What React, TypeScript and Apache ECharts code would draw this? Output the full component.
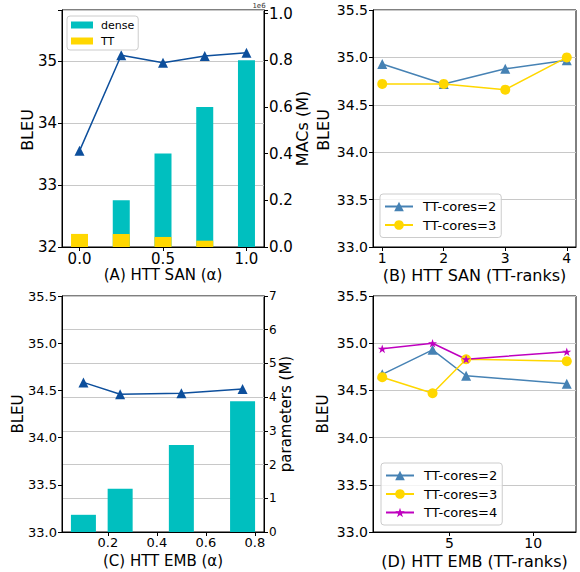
import React, { useEffect, useRef } from 'react';
import * as echarts from 'echarts';

// ---------- data ----------
const sanAlpha = [0, 0.25, 0.5, 0.75, 1.0];
const sanBleu = [33.55, 35.09, 34.97, 35.08, 35.13];
const sanDenseMacs = [0, 0.2, 0.4, 0.6, 0.8]; // x 1e6
const sanTTMacs = [0.056, 0.056, 0.043, 0.027, 0];

const sanRanks = [1, 2, 3, 4];
const sanRankCores2 = [34.93, 34.72, 34.88, 34.97];
const sanRankCores3 = [34.72, 34.72, 34.66, 35.0];

const embAlpha = [0.1, 0.25, 0.5, 0.75];
const embBleu = [34.585, 34.46, 34.47, 34.515];
const embParams = [0.51, 1.28, 2.58, 3.88];

const embRanks = [1, 4, 6, 12];
const embRankCores2 = [34.67, 34.93, 34.655, 34.57];
const embRankCores3 = [34.64, 34.47, 34.83, 34.81];
const embRankCores4 = [34.94, 35.0, 34.83, 34.91];

const ticksAX = [0, 0.5, 1.0];
const ticksBX = [1, 2, 3, 4];
const ticksCX = [0.2, 0.4, 0.6, 0.8];
const ticksDX = [5, 10];

const FONT = 'DejaVu Sans';
const GRIDLINE = '#c8c8c8';
const CYAN = '#00bfbf';
const GOLD = '#ffd700';
const DARKBLUE = '#0d4f9c';
const STEEL = '#4682b4';
const MAGENTA = '#bf00bf';
const STAR =
  'path://M0,-10 L2.245,-3.09 L9.51,-3.09 L3.633,1.18 L5.88,8.09 L0,3.82 L-5.88,8.09 L-3.633,1.18 L-9.51,-3.09 L-2.245,-3.09 Z';

const pairs = (xs: number[], ys: number[]) => xs.map((x, i) => [x, ys[i]]);
const isMult = (v: number, step: number) => Math.abs(v / step - Math.round(v / step)) < 1e-6;

function xAxisDef(gridIndex: number, min: number, max: number, ticks: number[], fontSize: number, fmt: (v: number) => string) {
  return {
    gridIndex,
    type: 'value',
    min,
    max,
    splitLine: { show: false },
    axisLine: { show: true, onZero: false, lineStyle: { color: '#000', width: 1 } },
    axisTick: { show: true, customValues: ticks, length: 4, lineStyle: { color: '#000' } },
    axisLabel: { customValues: ticks, formatter: fmt, fontSize, color: '#000', fontFamily: FONT, margin: 4 },
  };
}

function yAxisDef(
  gridIndex: number,
  position: 'left' | 'right',
  min: number,
  max: number,
  interval: number,
  fontSize: number,
  fmt: (v: number) => string,
  grid: boolean
) {
  return {
    gridIndex,
    type: 'value',
    position,
    min,
    max,
    interval,
    splitLine: { show: grid, lineStyle: { color: GRIDLINE, width: 1 } },
    axisLine: { show: true, onZero: false, lineStyle: { color: '#000', width: 1 } },
    axisTick: { show: true, length: 4, lineStyle: { color: '#000' } },
    axisLabel: { formatter: fmt, fontSize, color: '#000', fontFamily: FONT, margin: 5 },
  };
}

function lineSeries(name: string, xi: number, yi: number, data: number[][], color: string, symbol: string, size: number) {
  return {
    type: 'line',
    name,
    xAxisIndex: xi,
    yAxisIndex: yi,
    data,
    symbol,
    symbolSize: size,
    symbolKeepAspect: true,
    itemStyle: { color },
    lineStyle: { color, width: 1.5 },
    z: 3,
  };
}

function legendDef(data: string[], left: number, top: number, extra: any = {}) {
  return {
    data,
    left,
    top,
    orient: 'vertical',
    itemWidth: 28,
    itemHeight: 12,
    itemGap: 3.5,
    padding: [5, 5, 5, 4],
    backgroundColor: 'rgba(255,255,255,0.8)',
    borderColor: '#cccccc',
    borderWidth: 1,
    borderRadius: 3,
    selectedMode: false,
    textStyle: { fontSize: 13, lineHeight: 15, color: '#000', fontFamily: FONT, padding: [0, 0, 0, 5] },
    ...extra,
  };
}

function txt(text: string, x: number, y: number, fontSize: number, rot = false) {
  return {
    type: 'text',
    x,
    y,
    rotation: rot ? Math.PI / 2 : 0,
    style: { text, fontSize, fontFamily: FONT, fill: '#000', textAlign: 'center', textVerticalAlign: 'middle' },
  };
}

export default function App() {
  const ref = useRef<HTMLDivElement>(null);
  useEffect(() => {
    if (!ref.current) return;
    const chart = echarts.init(ref.current, undefined, { renderer: 'svg' });
    const gridBase = { show: true, borderColor: '#000', borderWidth: 1, backgroundColor: 'transparent', containLabel: false, outerBoundsMode: 'none' };
    const option: any = {
      animation: false,
      backgroundColor: '#fff',
      textStyle: { fontFamily: FONT },
      grid: [
        { ...gridBase, left: 62, top: 10, width: 202, height: 237 },
        { ...gridBase, left: 373, top: 10, width: 203, height: 237 },
        { ...gridBase, left: 62, top: 296, width: 202, height: 236 },
        { ...gridBase, left: 373, top: 296, width: 203, height: 236 },
      ],
      xAxis: [
        xAxisDef(0, -0.105, 1.105, ticksAX, 15, (v: number) => v.toFixed(1)),
        xAxisDef(1, 0.85, 4.15, ticksBX, 14, (v: number) => String(v)),
        xAxisDef(2, 0.0125, 0.8375, ticksCX, 13, (v: number) => v.toFixed(1)),
        xAxisDef(3, 0.45, 12.55, ticksDX, 14, (v: number) => String(v)),
      ],
      yAxis: [
        yAxisDef(0, 'left', 32, 35.82, 1, 15, (v: number) => (isMult(v, 1) ? String(Math.round(v)) : ''), true),
        yAxisDef(0, 'right', 0, 1.015, 0.2, 15, (v: number) => (isMult(v, 0.2) ? v.toFixed(1) : ''), false),
        yAxisDef(1, 'left', 33, 35.5, 0.5, 14, (v: number) => v.toFixed(1), true),
        yAxisDef(2, 'left', 33, 35.5, 0.5, 13, (v: number) => v.toFixed(1), false),
        yAxisDef(2, 'right', 0, 7, 1, 12, (v: number) => String(v), true),
        yAxisDef(3, 'left', 33, 35.5, 0.5, 14, (v: number) => v.toFixed(1), true),
      ],
      legend: [
        legendDef(['dense', 'TT'], 67, 16, {
          icon: 'rect',
          itemWidth: 22,
          itemHeight: 7,
          itemGap: 4,
          padding: [3, 4, 3, 4],
          textStyle: { fontSize: 11, lineHeight: 12, color: '#000', fontFamily: FONT, padding: [0, 0, 0, 3] },
        }),
        legendDef(['TT-cores=2', 'TT-cores=3'], 380, 194),
        legendDef(['TT-cores=2', 'TT-cores=3', 'TT-cores=4'], 381, 463),
      ],
      series: [
        {
          type: 'bar',
          name: 'dense',
          xAxisIndex: 0,
          yAxisIndex: 1,
          data: pairs(sanAlpha, sanDenseMacs),
          barWidth: 17,
          barGap: '-100%',
          itemStyle: { color: CYAN },
        },
        {
          type: 'bar',
          name: 'TT',
          xAxisIndex: 0,
          yAxisIndex: 1,
          data: pairs(sanAlpha, sanTTMacs),
          barWidth: 17,
          barGap: '-100%',
          itemStyle: { color: GOLD },
        },
        lineSeries('BLEU', 0, 0, pairs(sanAlpha, sanBleu), DARKBLUE, 'triangle', 10),
        lineSeries('TT-cores=2', 1, 2, pairs(sanRanks, sanRankCores2), STEEL, 'triangle', 10),
        lineSeries('TT-cores=3', 1, 2, pairs(sanRanks, sanRankCores3), GOLD, 'circle', 10),
        {
          type: 'bar',
          name: 'params',
          xAxisIndex: 2,
          yAxisIndex: 4,
          data: pairs(embAlpha, embParams),
          barWidth: 25,
          itemStyle: { color: CYAN },
        },
        lineSeries('BLEU-emb', 2, 3, pairs(embAlpha, embBleu), DARKBLUE, 'triangle', 10),
        lineSeries('TT-cores=2', 3, 5, pairs(embRanks, embRankCores2), STEEL, 'triangle', 10),
        lineSeries('TT-cores=3', 3, 5, pairs(embRanks, embRankCores3), GOLD, 'circle', 10),
        lineSeries('TT-cores=4', 3, 5, pairs(embRanks, embRankCores4), MAGENTA, STAR, 9),
      ],
      graphic: [
        { type: 'text', x: 259, y: 6, style: { text: '1e6', fontSize: 7, fontFamily: FONT, fill: '#333', textAlign: 'center', textVerticalAlign: 'middle' } },
        txt('BLEU', 27, 130, 16, true),
        txt('MACs (M)', 302, 128.5, 16, true),
        txt('(A) HTT SAN (\u03b1)', 163, 275, 15),
        txt('BLEU', 323, 130, 16, true),
        txt('(B) HTT SAN (TT-ranks)', 474.5, 275, 16),
        txt('BLEU', 17.5, 414, 15, true),
        txt('parameters (M)', 286, 414, 15, true),
        txt('(C) HTT EMB (\u03b1)', 163, 561, 15),
        txt('BLEU', 323, 414, 15, true),
        txt('(D) HTT EMB (TT-ranks)', 474.5, 561, 16),
      ],
    };
    chart.setOption(option);
    return () => chart.dispose();
  }, []);
  return <div ref={ref} style={{ position: 'fixed', left: 0, top: 0, width: 580, height: 572 }} />;
}
